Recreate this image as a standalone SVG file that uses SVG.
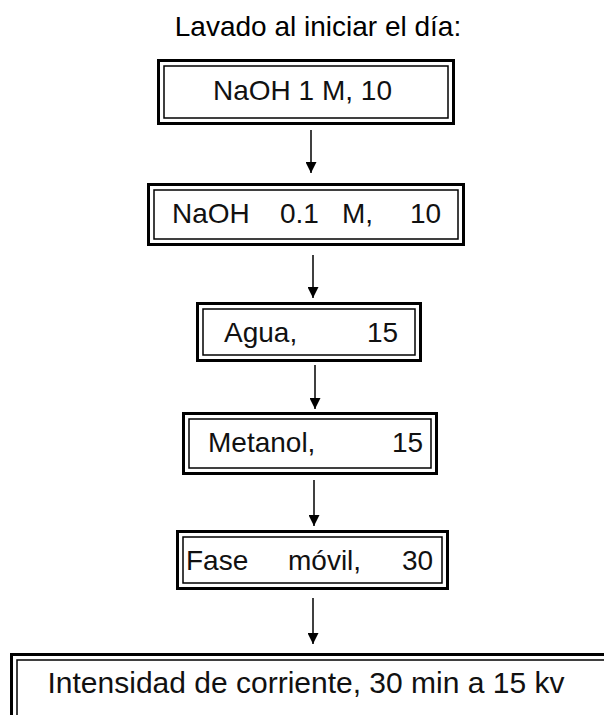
<svg xmlns="http://www.w3.org/2000/svg" width="604" height="715" viewBox="0 0 604 715">
  <style>
    .outer { fill: #fff; stroke: #000; stroke-width: 3; }
    .inner { fill: none; stroke: #000; stroke-width: 1.5; }
    .t { font-family: "Liberation Sans", Arial, sans-serif; font-size: 28px; fill: #111; }
    .title { font-family: "Liberation Sans", Arial, sans-serif; font-size: 28px; fill: #000; }
    .conn { stroke: #000; stroke-width: 1.5; fill: none; marker-end: url(#ah); }
  </style>
  <defs>
    <marker id="ah" viewBox="0 0 10 10" refX="10" refY="5" markerWidth="11" markerHeight="11" markerUnits="userSpaceOnUse" orient="auto">
      <path d="M0,0 L10,5 L0,10 z" fill="#000"/>
    </marker>
  </defs>
  <rect width="604" height="715" fill="#fff"/>
  <text class="title" x="318" y="36" text-anchor="middle">Lavado al iniciar el día:</text>

  <g id="connectors">
    <line class="conn" x1="311" y1="130" x2="311" y2="173"/>
    <line class="conn" x1="313" y1="255" x2="313" y2="298"/>
    <line class="conn" x1="315" y1="365" x2="315" y2="409"/>
    <line class="conn" x1="314" y1="480" x2="314" y2="526"/>
    <line class="conn" x1="313" y1="598" x2="313" y2="644"/>
  </g>

  <g id="n1">
    <rect class="outer" x="158.5" y="60.5" width="295" height="63"/>
    <rect class="inner" x="164" y="66" width="284" height="52"/>
    <text class="t" x="213" y="100">NaOH 1 M, 10</text>
  </g>
  <g id="n2">
    <rect class="outer" x="148.5" y="184.5" width="315" height="60"/>
    <rect class="inner" x="154" y="190" width="304" height="49"/>
    <text class="t" y="223"><tspan x="172">NaOH</tspan><tspan x="280">0.1</tspan><tspan x="342">M,</tspan><tspan x="410">10</tspan></text>
  </g>
  <g id="n3">
    <rect class="outer" x="197.5" y="303.5" width="223" height="57"/>
    <rect class="inner" x="203" y="309" width="212" height="46"/>
    <text class="t" y="342"><tspan x="224">Agua,</tspan><tspan x="367">15</tspan></text>
  </g>
  <g id="n4">
    <rect class="outer" x="183.5" y="413.5" width="253" height="60"/>
    <rect class="inner" x="189" y="419" width="242" height="49"/>
    <text class="t" y="452"><tspan x="208">Metanol,</tspan><tspan x="392">15</tspan></text>
  </g>
  <g id="n5">
    <rect class="outer" x="177.5" y="531.5" width="270" height="57"/>
    <rect class="inner" x="183" y="537" width="259" height="46"/>
    <text class="t" y="570"><tspan x="186">Fase</tspan><tspan x="288">móvil,</tspan><tspan x="402">30</tspan></text>
  </g>
  <g id="n6">
    <rect class="outer" x="11.5" y="654.5" width="620" height="100"/>
    <rect class="inner" x="17" y="660" width="609" height="89"/>
    <text class="t" x="306" y="693" text-anchor="middle" style="font-size:30px">Intensidad de corriente, 30 min a 15 kv</text>
  </g>
</svg>
